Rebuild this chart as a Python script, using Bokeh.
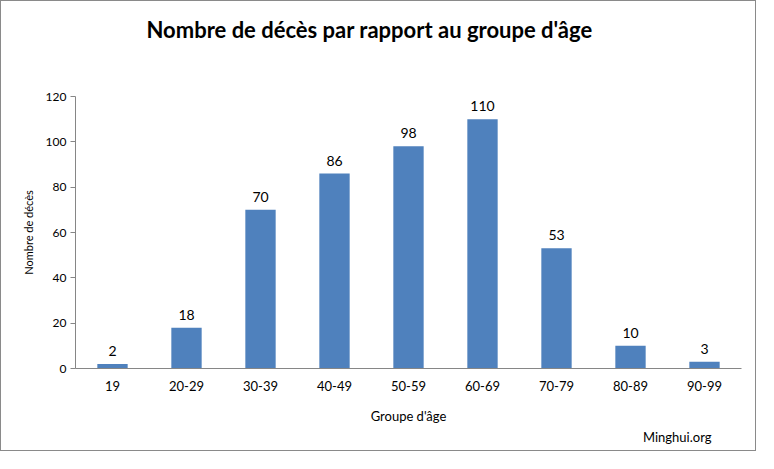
from bokeh.plotting import figure
from bokeh.models import ColumnDataSource, LabelSet, Title, FactorRange, Range1d, SingleIntervalTicker
from bokeh.core.properties import value
from bokeh.embed import file_html
from bokeh.resources import INLINE

groups = ["19", "20-29", "30-39", "40-49", "50-59", "60-69", "70-79", "80-89", "90-99"]
deaths = [2, 18, 70, 86, 98, 110, 53, 10, 3]

title_text = "Nombre de décès par rapport au groupe d'âge"
x_label = "Groupe d'âge"
y_label = "Nombre de décès"
credit = "Minghui.org"

FONT = "Lato"
BLUE = "#4F81BD"
AXIS = "#868686"

src = ColumnDataSource(dict(g=groups, v=deaths, t=[str(d) for d in deaths]))

p = figure(width=756, height=451, output_backend="svg", toolbar_location=None, title=None,
           x_range=FactorRange(*groups, range_padding=0), y_range=Range1d(0, 120),
           min_border_left=74, min_border_right=16, min_border_top=95, min_border_bottom=84)
p.outline_line_color = None
p.grid.visible = False
p.background_fill_color = "white"
p.border_fill_color = "white"

# spacer panel between the frame and the title
p.add_layout(Title(text=" ", standoff=36, text_font=FONT, text_font_size="13px"), "above")
p.add_layout(Title(text=title_text, align="left", offset=71, standoff=0,
                   text_font=FONT, text_font_size="22px", text_font_style="bold",
                   text_color="black"), "above")

p.vbar(x="g", top="v", width=0.41, source=src, fill_color=BLUE, line_color=None)

p.add_layout(LabelSet(x="g", y="v", text="t", source=src, text_align="center",
                      text_baseline="bottom", y_offset=8, text_font=value(FONT),
                      text_font_size="14px", text_color="black"))

ya = p.yaxis[0]
ya.ticker = SingleIntervalTicker(interval=20)
ya.axis_line_color = AXIS
ya.major_tick_line_color = AXIS
ya.major_tick_out = 5
ya.major_tick_in = 0
ya.minor_tick_line_color = None
ya.major_label_standoff = 4
ya.major_label_text_font = FONT
ya.major_label_text_font_size = "12px"
ya.major_label_text_color = "black"
ya.axis_label = y_label
ya.axis_label_text_font = FONT
ya.axis_label_text_font_size = "11px"
ya.axis_label_text_font_style = "normal"
ya.axis_label_text_color = "black"
ya.axis_label_standoff = 8

xa = p.xaxis[0]
xa.axis_line_color = AXIS
xa.major_tick_line_color = None
xa.major_tick_out = 0
xa.major_label_standoff = 12
xa.major_label_text_font = FONT
xa.major_label_text_font_size = "13px"
xa.major_label_text_color = "black"
xa.axis_label = x_label
xa.axis_label_text_font = FONT
xa.axis_label_text_font_size = "13px"
xa.axis_label_text_font_style = "normal"
xa.axis_label_text_color = "black"
xa.axis_label_text_line_height = 0.3
xa.axis_label_standoff = 14

p.add_layout(Title(text=credit, align="right", offset=30, standoff=0,
                   text_font=FONT, text_font_size="13px", text_font_style="normal",
                   text_color="black"), "below")

p.styles = {"border": "1px solid #8a8a8a"}

open("out.html", "w").write(file_html(p, INLINE))
